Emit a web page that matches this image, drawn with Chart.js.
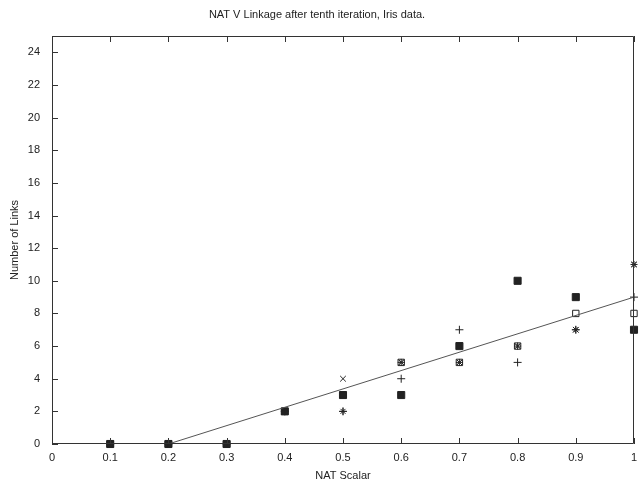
<!DOCTYPE html>
<html><head><meta charset="utf-8">
<script src="https://cdn.jsdelivr.net/npm/chart.js@4.4.0/dist/chart.umd.min.js"></script>
<style>html,body{margin:0;padding:0;background:#fff;}</style>
</head><body>
<canvas id="c" width="640" height="483"></canvas>
<script>
const xValues      = [0.1, 0.2, 0.3, 0.4, 0.5, 0.6, 0.7, 0.8, 0.9, 1.0];
const plusCounts   = [0, 0, 0, 2, 2, 4, 7, 5, 7, 9];
const crossCounts  = [0, 0, 0, 2, 4, 5, 5, 6, 7, 11];
const starCounts   = [0, 0, 0, 2, 2, 5, 5, 6, 7, 11];
const openSqCounts = [0, 0, 0, 2, 3, 5, 5, 6, 8, 8];
const fillSqCounts = [0, 0, 0, 2, 3, 3, 6, 10, 9, 7];
const fitX = [0.2, 1.0];
const fitY = [0, 9];
const xTicks = [0, 0.1, 0.2, 0.3, 0.4, 0.5, 0.6, 0.7, 0.8, 0.9, 1];
const yTicks = [0, 2, 4, 6, 8, 10, 12, 14, 16, 18, 20, 22, 24];

const pts = ys => xValues.map((x, i) => ({x: x, y: ys[i]}));
const font = {family: '"Liberation Sans", Arial, sans-serif', size: 11};
const ink = '#222';

const frame = {
  id: 'frame',
  afterDraw(chart) {
    const {ctx, chartArea: a, scales: {x, y}} = chart;
    ctx.save();
    ctx.strokeStyle = '#333';
    ctx.lineWidth = 1;
    ctx.beginPath();
    ctx.rect(Math.round(a.left) + 0.5, Math.round(a.top) + 0.5,
             Math.round(a.right - a.left) - 1, Math.round(a.bottom - a.top) - 1);
    xTicks.forEach(v => {
      const px = Math.round(x.getPixelForValue(v)) + 0.5;
      ctx.moveTo(px, a.bottom); ctx.lineTo(px, a.bottom - 6);
      ctx.moveTo(px, a.top); ctx.lineTo(px, a.top + 6);
    });
    yTicks.forEach(v => {
      const py = Math.round(y.getPixelForValue(v)) + 0.5;
      ctx.moveTo(a.left, py); ctx.lineTo(a.left + 6, py);
    });
    ctx.stroke();
    ctx.restore();
  }
};

const mk = (label, data, style, radius, fill) => ({
  type: 'scatter', label, data: pts(data), pointStyle: style,
  pointRadius: radius, borderColor: ink, backgroundColor: fill ? ink : 'rgba(0,0,0,0)',
  pointBorderWidth: 1, showLine: false, clip: false
});

new Chart(document.getElementById('c'), {
  data: {
    datasets: [
      {type: 'line', label: 'fit', data: fitX.map((x, i) => ({x: x, y: fitY[i]})),
       borderColor: '#555', borderWidth: 1, pointRadius: 0, fill: false, tension: 0},
      mk('+', plusCounts, 'cross', 4, false),
      mk('x', crossCounts, 'crossRot', 4, false),
      mk('*', starCounts, 'star', 3.5, false),
      mk('open', openSqCounts, 'rect', 4.5, false),
      mk('filled', fillSqCounts, 'rect', 5, true)
    ]
  },
  options: {
    responsive: false,
    animation: false,
    events: [],
    layout: {padding: {left: 0, right: 6, top: 0, bottom: 0}},
    plugins: {
      legend: {display: false},
      tooltip: {enabled: false},
      title: {display: true, text: 'NAT V Linkage after tenth iteration, Iris data.',
              color: ink, font: {...font, weight: 'normal'}, padding: {top: 8, bottom: 14.8}}
    },
    scales: {
      x: {
        type: 'linear', min: 0, max: 1,
        afterBuildTicks: ax => { ax.ticks = xTicks.map(v => ({value: v})); },
        afterFit: s => { s.height = 39; s.paddingLeft = 0; s.paddingRight = 0; },
        grid: {display: false, drawTicks: false}, border: {display: false},
        ticks: {color: ink, font, padding: 7.5, maxRotation: 0, autoSkip: false,
                callback: v => String(+(+v).toFixed(1))},
        title: {display: true, text: 'NAT Scalar', color: ink, font, padding: {top: 0, bottom: 0}}
      },
      y: {
        type: 'linear', min: 0, max: 25,
        afterBuildTicks: ax => { ax.ticks = yTicks.map(v => ({value: v})); },
        afterFit: s => { s.width = 52; s.paddingTop = 0; s.paddingBottom = 0; },
        grid: {display: false, drawTicks: false}, border: {display: false},
        ticks: {color: ink, font, padding: 12, autoSkip: false},
        title: {display: true, text: 'Number of Links', color: ink, font, padding: {top: 8.4, bottom: 0}}
      }
    }
  },
  plugins: [frame]
});
</script>
</body></html>
